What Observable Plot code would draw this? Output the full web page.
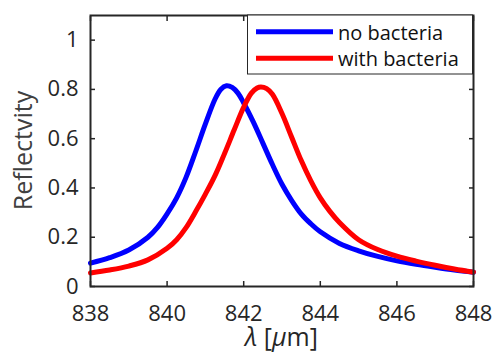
<!DOCTYPE html>
<html><head><meta charset="utf-8">
<script src="https://cdn.jsdelivr.net/npm/d3@7"></script>
<script src="https://cdn.jsdelivr.net/npm/@observablehq/plot@0.6"></script>
<style>body{margin:0;background:#fff} #chart{width:492px;height:352px}</style>
</head><body><div id="chart"></div>
<script>
const seriesNames = ["no bacteria", "with bacteria"];
const seriesColors = ["#0000ff", "#ff0000"];
const xTicks = [838, 840, 842, 844, 846, 848];
const yTicks = [0, 0.2, 0.4, 0.6, 0.8, 1];
const xLabel = "λ [μm]";
const yLabel = "Reflectvity";

const lambdaNo = [838, 838.5, 839, 839.5, 839.75, 840, 840.25, 840.5, 840.75, 841, 841.25, 841.4, 841.55, 841.7, 841.85, 842, 842.25, 842.5, 842.75, 843, 843.25, 843.5, 843.75, 844, 844.5, 845, 845.5, 846, 846.5, 847, 847.5, 848];
const reflNo   = [0.095, 0.117, 0.148, 0.2, 0.24, 0.295, 0.36, 0.445, 0.55, 0.66, 0.76, 0.8, 0.815, 0.808, 0.785, 0.745, 0.668, 0.582, 0.495, 0.415, 0.35, 0.295, 0.255, 0.222, 0.175, 0.145, 0.122, 0.104, 0.09, 0.078, 0.067, 0.058];

const lambdaWith = [838, 838.5, 839, 839.5, 840, 840.25, 840.5, 840.75, 841, 841.25, 841.5, 841.75, 842, 842.2, 842.35, 842.45, 842.6, 842.75, 843, 843.25, 843.5, 843.75, 844, 844.25, 844.5, 845, 845.5, 846, 846.5, 847, 847.5, 848];
const reflWith   = [0.055, 0.067, 0.083, 0.108, 0.155, 0.19, 0.24, 0.305, 0.375, 0.45, 0.54, 0.635, 0.728, 0.785, 0.806, 0.81, 0.803, 0.78, 0.702, 0.607, 0.512, 0.43, 0.36, 0.305, 0.26, 0.19, 0.15, 0.123, 0.103, 0.086, 0.071, 0.058];

const dataNo = lambdaNo.map((x, i) => ({lambda: x, r: reflNo[i], s: seriesNames[0]}));
const dataWith = lambdaWith.map((x, i) => ({lambda: x, r: reflWith[i], s: seriesNames[1]}));

const axisColor = "#262626";
const plot = Plot.plot({
  width: 492, height: 352,
  marginLeft: 90, marginRight: 19, marginTop: 15, marginBottom: 66,
  style: {fontFamily: "'Open Sans', sans-serif", fontSize: "22px", color: axisColor, background: "white", overflow: "visible"},
  x: {domain: [838, 848], label: null},
  y: {domain: [0, 1.1], label: null},
  marks: [
    Plot.line(dataNo, {x: "lambda", y: "r", stroke: seriesColors[0], strokeWidth: 5, curve: "catmull-rom"}),
    Plot.line(dataWith, {x: "lambda", y: "r", stroke: seriesColors[1], strokeWidth: 5, curve: "catmull-rom"}),
    Plot.frame({stroke: axisColor, strokeWidth: 2}),
    Plot.axisX({anchor: "bottom", ticks: xTicks, tickSize: -5, tickPadding: 24, strokeWidth: 1.5, fontSize: 22, tickFormat: d => String(d), label: null}),
    Plot.axisX({anchor: "top", ticks: xTicks, tickSize: -5, strokeWidth: 1.5, tickFormat: () => "", label: null}),
    Plot.axisY({anchor: "left", ticks: yTicks, tickSize: -5, tickPadding: 17, strokeWidth: 1.5, fontSize: 22, tickFormat: d => String(d), label: null}),
    Plot.axisY({anchor: "right", ticks: yTicks, tickSize: -5, strokeWidth: 1.5, tickFormat: () => "", label: null})
  ]
});

const svg = d3.select(plot);
// axis titles
svg.append("text")
  .attr("transform", "translate(32,150.5) rotate(-90)")
  .attr("text-anchor", "middle")
  .attr("fill", "#404040")
  .style("font-size", "25px")
  .style("font-family", "'Open Sans', sans-serif")
  .text(yLabel);
const xl = svg.append("text")
  .attr("x", 281.5).attr("y", 346)
  .attr("text-anchor", "middle")
  .attr("fill", axisColor)
  .style("font-size", "25px")
  .style("font-family", "'Open Sans', sans-serif");
xl.append("tspan").style("font-style", "italic").text(xLabel.slice(0, 1));
xl.append("tspan").text(" [");
xl.append("tspan").style("font-style", "italic").text(xLabel.slice(3, 4));
xl.append("tspan").text(xLabel.slice(4));

// legend
const lg = svg.append("g");
lg.append("rect").attr("x", 247.5).attr("y", 15).attr("width", 225).attr("height", 59)
  .attr("fill", "white").attr("stroke", axisColor).attr("stroke-width", 1);
seriesNames.forEach((name, i) => {
  const cy = 31.7 + i * 26.6;
  lg.append("line").attr("x1", 256).attr("x2", 333).attr("y1", cy).attr("y2", cy)
    .attr("stroke", seriesColors[i]).attr("stroke-width", 5);
  lg.append("text").attr("x", 338).attr("y", cy + 8)
    .attr("text-anchor", "start")
    .attr("fill", "#111")
    .style("font-size", "20px").style("font-family", "'Open Sans', sans-serif")
    .text(name);
});

document.getElementById("chart").appendChild(plot);
</script>
</body></html>
